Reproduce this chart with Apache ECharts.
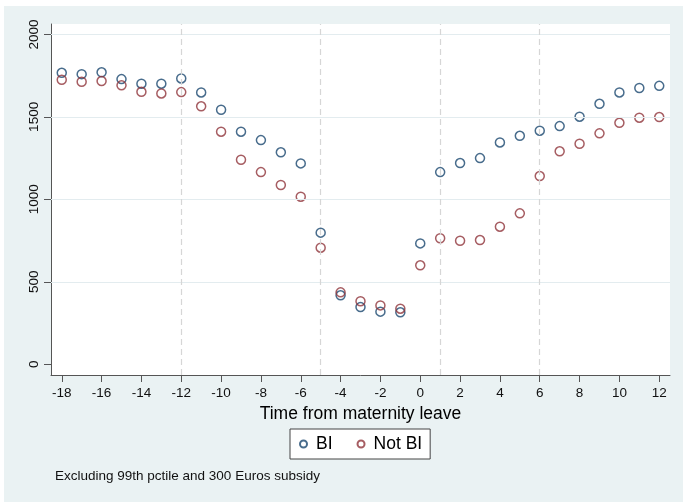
<!DOCTYPE html>
<html>
<head>
<meta charset="utf-8">
<script src="https://cdn.jsdelivr.net/npm/echarts@6/dist/echarts.min.js"></script>
<style>
  html, body { margin: 0; padding: 0; background: #ffffff; }
  #chart { position: absolute; left: 4px; top: 6px; width: 679px; height: 496px; background: #EAF2F3; }
</style>
</head>
<body>
<div id="chart"></div>
<script>
// Months relative to the start of maternity leave
const months = [-18,-17,-16,-15,-14,-13,-12,-11,-10,-9,-8,-7,-6,-5,-4,-3,-2,-1,0,1,2,3,4,5,6,7,8,9,10,11,12];

// Mean earnings, BI group
const biValues = [1767,1759,1770,1729,1701,1701,1733,1648,1543,1410,1359,1285,1218,798,418,347,319,315,733,1165,1220,1250,1345,1385,1416,1444,1501,1579,1648,1675,1688];

// Mean earnings, non-BI group
const notBiValues = [1725,1713,1717,1691,1652,1642,1650,1564,1410,1240,1165,1087,1016,707,436,382,357,337,600,764,749,753,834,915,1141,1291,1337,1400,1464,1495,1499];

const xTicks = [-18,-16,-14,-12,-10,-8,-6,-4,-2,0,2,4,6,8,10,12];
const yTicks = [0,500,1000,1500,2000];
const yGridLines = [500,1000,1500,2000];
const refLines = [-12,-5,1,6];

const seriesNames = ['BI', 'Not BI'];
const xTitle = 'Time from maternity leave';
const note = 'Excluding 99th pctile and 300 Euros subsidy';

const FONT = '"Liberation Sans", Arial, sans-serif';
const BLUE = '#1a476f';
const RED = '#90353b';

const toPoints = vals => months.map((m, i) => [m, vals[i]]);

const markLineData = [
  ...yGridLines.map(v => ({ yAxis: v, lineStyle: { color: '#E3ECEF', width: 1.2, type: 'solid' } })),
  ...refLines.map(v => ({ xAxis: v, lineStyle: { color: '#D6D6D6', width: 1.2, type: [6, 4] } }))
];

const chart = echarts.init(document.getElementById('chart'), null, { renderer: 'canvas' });

chart.setOption({
  backgroundColor: '#EAF2F3',
  animation: false,
  textStyle: { fontFamily: FONT },
  title: {
    text: note,
    left: 51,
    top: 463,
    padding: 0,
    textStyle: { fontFamily: FONT, fontSize: 13.5, fontWeight: 'normal', color: '#111' }
  },
  legend: {
    data: seriesNames.map(n => ({ name: n, icon: 'circle' })),
    left: 286,
    top: 423,
    orient: 'horizontal',
    itemWidth: 7,
    itemHeight: 7,
    itemGap: 24,
    padding: [6, 8, 6, 9],
    backgroundColor: '#ffffff',
    borderColor: '#444',
    borderWidth: 1,
    borderRadius: 0,
    textStyle: { fontFamily: FONT, fontSize: 17.5, color: '#000', padding: [0, 0, 0, 4] }
  },
  grid: {
    left: 47, right: 13, top: 18, bottom: 127,
    show: true, backgroundColor: '#ffffff', borderWidth: 0
  },
  xAxis: {
    type: 'value',
    min: -18.54,
    max: 12.54,
    name: xTitle,
    nameLocation: 'middle',
    nameGap: 24,
    nameTextStyle: { fontFamily: FONT, fontSize: 17.5, color: '#000' },
    axisLine: { show: true, onZero: false, lineStyle: { color: '#555', width: 1 } },
    axisTick: { show: true, length: 7, lineStyle: { color: '#555' }, customValues: xTicks },
    axisLabel: { customValues: xTicks, fontFamily: FONT, fontSize: 13.5, color: '#111', margin: 11, formatter: v => String(v) },
    splitLine: { show: false }
  },
  yAxis: {
    type: 'value',
    min: -65,
    max: 2063,
    axisLine: { show: true, onZero: false, lineStyle: { color: '#555', width: 1 } },
    axisTick: { show: true, length: 7, lineStyle: { color: '#555' }, customValues: yTicks },
    axisLabel: { customValues: yTicks, rotate: 90, fontFamily: FONT, fontSize: 13.5, color: '#111', margin: 10, formatter: v => String(v) },
    splitLine: { show: false }
  },
  series: [
    {
      name: seriesNames[0],
      type: 'scatter',
      data: toPoints(biValues),
      symbol: 'circle',
      symbolSize: 9,
      itemStyle: { color: 'rgba(255,255,255,0)', borderColor: BLUE, borderWidth: 1.5 },
      markLine: {
        silent: true,
        symbol: 'none',
        label: { show: false },
        emphasis: { disabled: true },
        data: markLineData
      },
      z: 3
    },
    {
      name: seriesNames[1],
      type: 'scatter',
      data: toPoints(notBiValues),
      symbol: 'circle',
      symbolSize: 9,
      itemStyle: { color: 'rgba(255,255,255,0)', borderColor: RED, borderWidth: 1.5 },
      z: 4
    }
  ]
});
</script>
</body>
</html>
